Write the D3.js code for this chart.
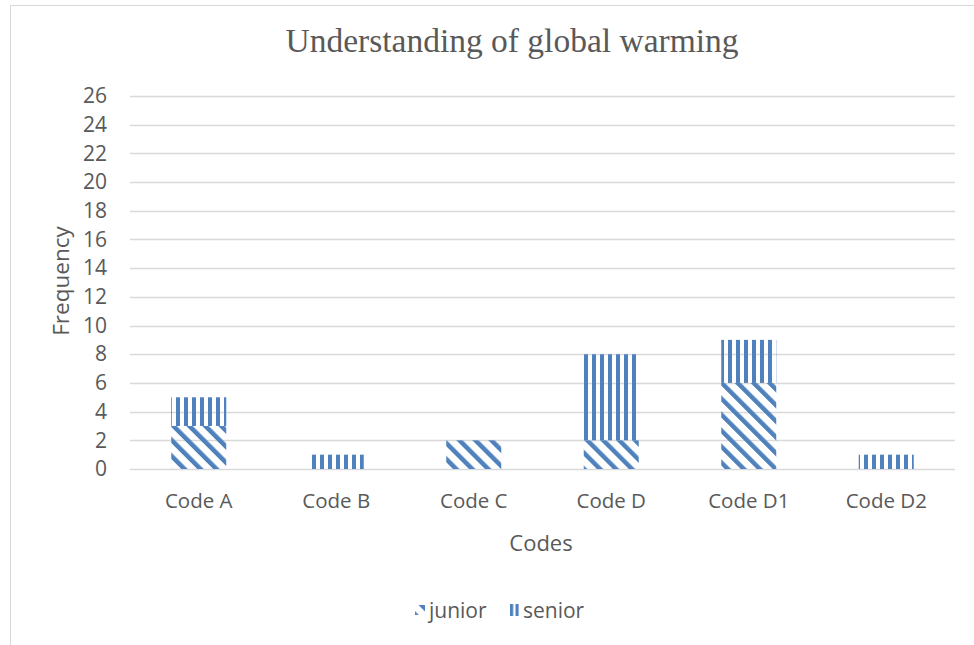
<!DOCTYPE html>
<html>
<head>
<meta charset="utf-8">
<title>Understanding of global warming</title>
<script src="https://d3js.org/d3.v7.min.js"></script>
<style>
  body { margin: 0; background: #fff; }
  text { font-family: 'Open Sans', sans-serif; fill: #595959; }
  .title { font-family: 'Liberation Serif', 'Times New Roman', serif; }
</style>
</head>
<body>
<div id="chart"></div>
<script>
// ******* Data *******
const categories = ["Code A", "Code B", "Code C", "Code D", "Code D1", "Code D2"];
const junior = [3, 0, 2, 2, 6, 0];
const senior = [2, 1, 0, 6, 3, 1];
const yTicks = d3.range(0, 27, 2);
const seriesNames = ["junior", "senior"];

// ******* Constants *******
const width = 974, height = 645;
const plot = { left: 130, right: 955, top: 96, bottom: 469 };
const blue = "#4f81bd";

const svg = d3.select("#chart").append("svg")
    .attr("width", width)
    .attr("height", height);

// ******* Patterns *******
const defs = svg.append("defs");
defs.append("pattern")
    .attr("id", "diag")
    .attr("patternUnits", "userSpaceOnUse")
    .attr("width", 11.3).attr("height", 11.3)
    .attr("patternTransform", "rotate(-45)")
  .append("rect")
    .attr("width", 4.5).attr("height", 11.3)
    .attr("fill", blue);

defs.append("pattern")
    .attr("id", "vert")
    .attr("patternUnits", "userSpaceOnUse")
    .attr("width", 8).attr("height", 8)
  .append("rect")
    .attr("width", 4).attr("height", 8)
    .attr("fill", blue);

// smaller stripes for the legend key
defs.append("pattern")
    .attr("id", "vertKey")
    .attr("patternUnits", "userSpaceOnUse")
    .attr("width", 5.5).attr("height", 8)
    .attr("x", 510)
  .append("rect")
    .attr("width", 3.2).attr("height", 8)
    .attr("fill", blue);

// chart frame
svg.append("rect")
    .attr("x", 10.5).attr("y", 5.5)
    .attr("width", 1000).attr("height", 700)
    .attr("fill", "none")
    .attr("stroke", "#d9d9d9");

// ******* Scales *******
const x = d3.scaleBand()
    .domain(categories)
    .range([plot.left, plot.right])
    .paddingInner(0.6)
    .paddingOuter(0.3);

const y = d3.scaleLinear()
    .domain([0, 26])
    .range([plot.bottom, plot.top]);

// ******* Grid *******
svg.append("g")
    .selectAll("line")
    .data(yTicks)
    .join("line")
    .attr("x1", plot.left).attr("x2", plot.right)
    .attr("y1", d => Math.round(y(d)) + 0.5)
    .attr("y2", d => Math.round(y(d)) + 0.5)
    .attr("stroke", "#d9d9d9")
    .attr("stroke-width", 1.3);

// ******* Axes *******
const yAxis = svg.append("g")
    .attr("transform", `translate(${plot.left}, 0)`)
    .call(d3.axisLeft(y).tickValues(yTicks).tickSize(0).tickPadding(23));
yAxis.select(".domain").remove();
yAxis.selectAll("text")
    .style("font-family", "'Open Sans', sans-serif")
    .style("font-size", "21px")
    .attr("fill", "#595959");

const xAxis = svg.append("g")
    .attr("transform", `translate(0, ${plot.bottom})`)
    .call(d3.axisBottom(x).tickSize(0).tickPadding(24));
xAxis.select(".domain").remove();
xAxis.selectAll("text")
    .style("font-family", "'Open Sans', sans-serif")
    .style("font-size", "20.5px")
    .attr("fill", "#595959");

// ******* Bars *******
const stacked = d3.stack().keys(seriesNames)(
    categories.map((c, i) => ({ cat: c, junior: junior[i], senior: senior[i] }))
);
const fills = { junior: "url(#diag)", senior: "url(#vert)" };

svg.append("g")
    .selectAll("g")
    .data(stacked)
    .join("g")
    .attr("fill", d => fills[d.key])
    .selectAll("rect")
    .data(d => d)
    .join("rect")
    .attr("x", d => x(d.data.cat))
    .attr("width", x.bandwidth())
    .attr("y", d => y(d[1]))
    .attr("height", d => y(d[0]) - y(d[1]));

// ******* Titles *******
svg.append("text")
    .attr("class", "title")
    .attr("x", 512).attr("y", 52)
    .attr("text-anchor", "middle")
    .style("font-size", "33.5px")
    .text("Understanding of global warming");

svg.append("text")
    .attr("x", 541).attr("y", 551)
    .attr("text-anchor", "middle")
    .style("font-size", "22px")
    .text("Codes");

svg.append("text")
    .attr("transform", `translate(69, 281) rotate(-90)`)
    .attr("text-anchor", "middle")
    .style("font-size", "22.5px")
    .text("Frequency");

// ******* Legend *******
const legend = svg.append("g").attr("transform", "translate(0, 618)");
legend.append("rect")
    .attr("x", 415).attr("y", -13)
    .attr("width", 10).attr("height", 10)
    .attr("fill", "url(#diag)");
legend.append("text").attr("x", 429).attr("y", 0)
    .style("font-size", "21px").text("junior");
legend.append("rect")
    .attr("x", 510).attr("y", -615 + 601)
    .attr("width", 9).attr("height", 12)
    .attr("fill", "url(#vertKey)");
legend.append("text").attr("x", 523).attr("y", 0)
    .style("font-size", "21px").text("senior");
</script>
</body>
</html>
